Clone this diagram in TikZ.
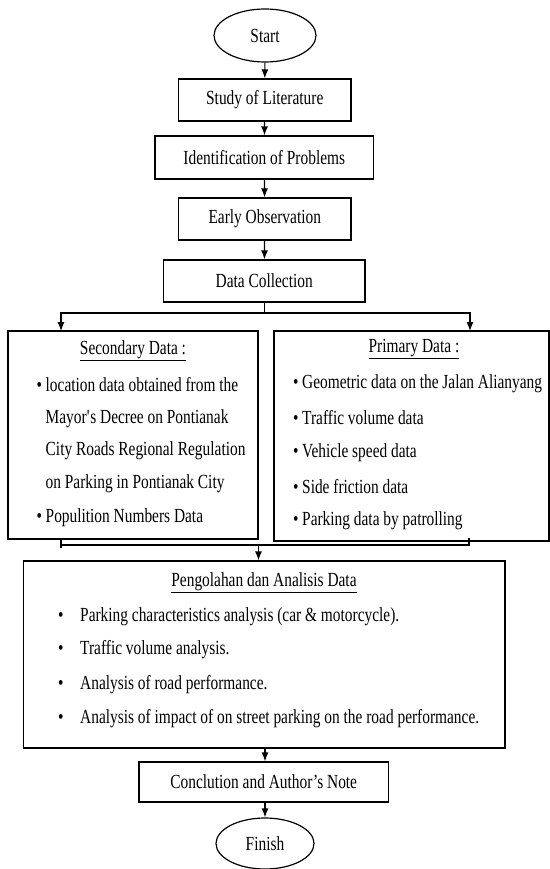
\documentclass[tikz,border=0pt]{standalone}
\usepackage{fontspec}
\setmainfont{Liberation Serif}[FakeStretch=0.77]
\usetikzlibrary{shapes.geometric,arrows.meta}
\newcommand\bul{\makebox[9pt][l]{\textbullet}}
\newcommand\bigbul{\makebox[22pt][l]{\textbullet}}
\tikzset{
  txt/.style={font=\fontsize{20}{22}\selectfont},
  stepbox/.style={txt,draw,line width=1.2pt,inner sep=0pt},
  term/.style={txt,draw,ellipse,line width=1.2pt,inner sep=0pt},
  item/.style={txt,anchor=west,inner sep=0pt},
  arrow/.style={line width=1.2pt,-{Latex[length=9pt,width=7pt]}},
  link/.style={line width=1.2pt}
}
\begin{document}
\begin{tikzpicture}[x=1pt,y=-1pt]
    \useasboundingbox (0,0) rectangle (549,869);
    % top chain
    \node [term,minimum width=102pt,minimum height=53pt] (start) at (265,35.5) {Start};
    \node [stepbox,minimum width=172.5pt,minimum height=42pt] (study) at (264.75,100) {Study of Literature};
    \node [stepbox,minimum width=218.5pt,minimum height=43pt] (problem) at (264.25,157.5) {Identification of Problems};
    \node [stepbox,minimum width=172.5pt,minimum height=42pt] (observe) at (264.75,219) {Early Observation};
    \node [stepbox,minimum width=201.5pt,minimum height=42pt] (collect) at (264.25,281) {Data Collection};
    \draw [arrow] (start) -- (study);
    \draw [arrow] (study) -- (problem);
    \draw [arrow] (problem) -- (observe);
    \draw [arrow] (observe) -- (collect);

    % data boxes
    \node [stepbox,minimum width=250pt,minimum height=208pt] (secondary) at (133,435) {};
    \node [stepbox,minimum width=275pt,minimum height=210pt] (primary) at (411.5,436) {};
    \node [txt,inner sep=0pt] (sectitle) at (133,351) {\underline{Secondary Data :}};
    \node [item] (sec1) at (36.5,385) {\bul location data obtained from the};
    \node [item] (sec2) at (45.5,419) {Mayor\textquotesingle s Decree on Pontianak};
    \node [item] (sec3) at (45.5,451) {City Roads Regional Regulation};
    \node [item] (sec4) at (45.5,484) {on Parking in Pontianak City};
    \node [item] (sec5) at (36.5,518) {\bul Populition Numbers Data};
    \node [txt,inner sep=0pt] (prititle) at (414,349) {\underline{Primary Data :}};
    \node [item] (pri1) at (293,384) {\bul Geometric data on the Jalan Alianyang};
    \node [item] (pri2) at (293,418) {\bul Traffic volume data};
    \node [item] (pri3) at (293,453) {\bul Vehicle speed data};
    \node [item] (pri4) at (293,487) {\bul Side friction data};
    \node [item] (pri5) at (293,521) {\bul Parking data by patrolling};
    \coordinate (split) at (264.25,313);
    \coordinate (secin) at (61,331);
    \coordinate (priin) at (470,331);
    \draw [link] (collect) -- (split);
    \draw [arrow] (split) -| (secin);
    \draw [arrow] (split) -| (priin);

    % analysis
    \node [stepbox,minimum width=481.5pt,minimum height=187pt] (analysis) at (264.25,654.5) {};
    \node [txt,inner sep=0pt] (antitle) at (264,583) {\underline{Pengolahan dan Analisis Data}};
    \node [item] (an1) at (58,617) {\bigbul Parking characteristics analysis (car \& motorcycle).};
    \node [item] (an2) at (58,650) {\bigbul Traffic volume analysis.};
    \node [item] (an3) at (58,685) {\bigbul Analysis of road performance.};
    \node [item] (an4) at (58,719) {\bigbul Analysis of impact of on street parking on the road performance.};
    \coordinate (secout) at (61,538);
    \coordinate (priout) at (469,538);
    \coordinate (join) at (258.5,545);
    \draw [link] (secout) -- ++(0,10);
    \draw [link] (secout |- join) -- (join) -- (priout |- join) -- (priout);
    \draw [arrow] (join) -- (join |- analysis.north);

    % end
    \node [stepbox,minimum width=249.5pt,minimum height=40pt] (conclude) at (263.75,782) {Conclution and Author’s Note};
    \node [term,minimum width=98pt,minimum height=51pt] (finish) at (265,843.5) {Finish};
    \draw [arrow] (analysis.south -| finish) -- (conclude.north -| finish);
    \draw [arrow] (conclude.south -| finish) -- (finish);
\end{tikzpicture}
\end{document}
